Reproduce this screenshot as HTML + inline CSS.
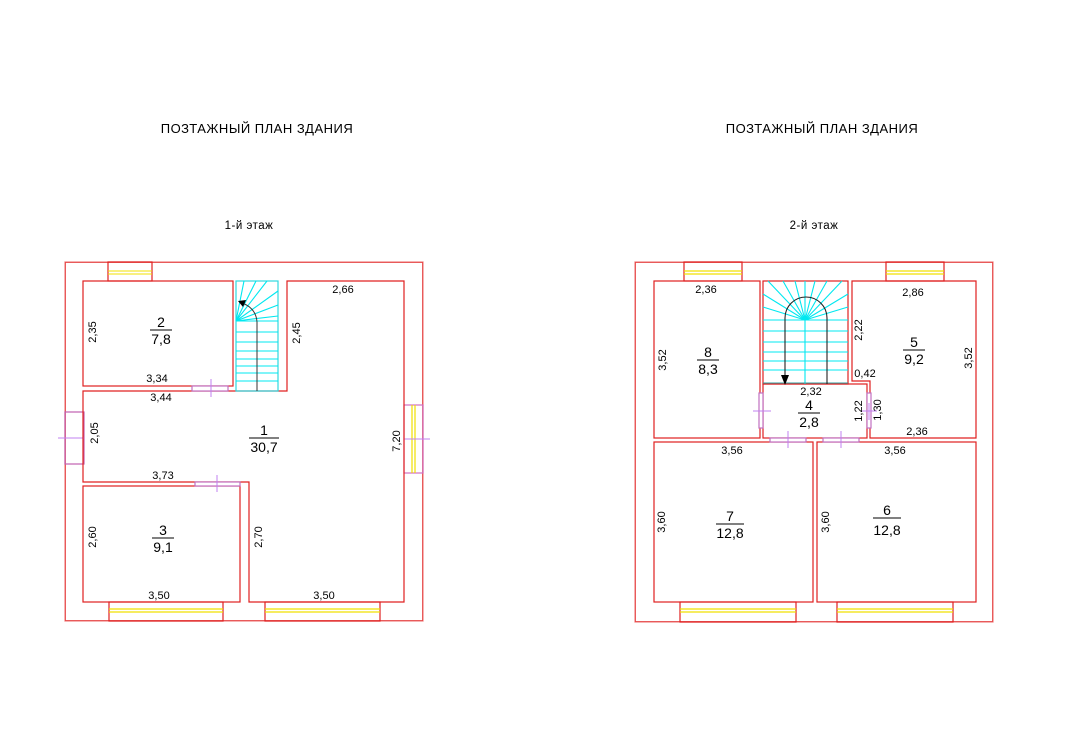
<!DOCTYPE html>
<html><head><meta charset="utf-8"><style>
html,body{margin:0;padding:0;background:#fff;}
svg{display:block;}
text{font-family:"Liberation Sans",sans-serif;fill:#000;}
</style></head><body>
<svg width="1080" height="750" viewBox="0 0 1080 750" xmlns="http://www.w3.org/2000/svg">
<g font-size="12.5" letter-spacing="0.5">
<text x="257" y="133" text-anchor="middle" font-size="13">ПОЗТАЖНЫЙ ПЛАН ЗДАНИЯ</text>
<text x="822" y="133" text-anchor="middle" font-size="13">ПОЗТАЖНЫЙ ПЛАН ЗДАНИЯ</text>
<text x="249" y="229" text-anchor="middle" font-size="11.5">1-й этаж</text>
<text x="814" y="229" text-anchor="middle" font-size="11.5">2-й этаж</text>
</g>

<!-- LEFT PLAN -->
<g fill="none" stroke-width="1.2">
<rect x="65" y="262" width="358" height="359" stroke="#f08080"/>
<rect x="65.5" y="262.5" width="357" height="358" stroke="#e02020" stroke-width="0.6"/>
<!-- windows -->
<rect x="108" y="262" width="44" height="19" stroke="#e02020"/>
<line x1="108" y1="271" x2="152" y2="271" stroke="#f0e000" stroke-width="1"/>
<line x1="108" y1="274" x2="152" y2="274" stroke="#f0e000" stroke-width="1"/>
<rect x="109" y="602" width="114" height="19" stroke="#e02020"/>
<line x1="109" y1="609" x2="223" y2="609" stroke="#f0e000"/>
<line x1="109" y1="612" x2="223" y2="612" stroke="#f0e000"/>
<rect x="265" y="602" width="115" height="19" stroke="#e02020"/>
<line x1="265" y1="609" x2="380" y2="609" stroke="#f0e000"/>
<line x1="265" y1="612" x2="380" y2="612" stroke="#f0e000"/>
<rect x="404" y="405" width="19" height="68" stroke="#d070c0"/>
<line x1="412" y1="405" x2="412" y2="473" stroke="#f0e000"/>
<line x1="415" y1="405" x2="415" y2="473" stroke="#f0e000"/>
<line x1="404" y1="439" x2="430" y2="439" stroke="#c080f0" stroke-width="1"/>
<rect x="65" y="412" width="19" height="52" stroke="#c060b0"/>
<line x1="58" y1="438" x2="84" y2="438" stroke="#c080f0" stroke-width="1"/>
<!-- rooms -->
<rect x="83" y="281" width="150" height="105" stroke="#e02020"/>
<polygon points="287,281 404,281 404,602 249,602 249,482 83,482 83,391 287,391" stroke="#e02020"/>
<rect x="83" y="486" width="157" height="116" stroke="#e02020"/>
<!-- doors -->
<rect x="192" y="386" width="36" height="5" stroke="#c070c0" fill="#fff"/>
<line x1="211" y1="379" x2="211" y2="397" stroke="#c080f0" stroke-width="1"/>
<rect x="195" y="482" width="45" height="4" stroke="#c070c0" fill="#fff"/>
<line x1="217" y1="475" x2="217" y2="492" stroke="#c080f0" stroke-width="1"/>
<!-- stair -->
<rect x="236" y="281" width="42" height="110" stroke="#30d8e0"/>
<g stroke="#00e8f0" stroke-width="1.1">
<line x1="236" y1="321" x2="244" y2="281"/><line x1="236" y1="321" x2="256" y2="281"/>
<line x1="236" y1="321" x2="267" y2="281"/><line x1="236" y1="321" x2="278" y2="291"/>
<line x1="236" y1="321" x2="278" y2="305"/><line x1="236" y1="321" x2="278" y2="316"/>
<line x1="236" y1="321" x2="278" y2="321"/><line x1="236" y1="332" x2="278" y2="332"/>
<line x1="236" y1="342" x2="278" y2="342"/><line x1="236" y1="351" x2="278" y2="351"/>
<line x1="236" y1="359" x2="278" y2="359"/><line x1="236" y1="366" x2="278" y2="366"/>
<line x1="236" y1="373" x2="278" y2="373"/><line x1="236" y1="381" x2="278" y2="381"/>
</g>
<path d="M257,391 L257,322 Q256,308 242,303" stroke="#333" stroke-width="1"/>
<polygon points="238,301 246,300 243,307" fill="#000" stroke="none"/>
</g>
<g font-size="11">
<text x="343" y="293" text-anchor="middle">2,66</text>
<text x="157" y="382" text-anchor="middle">3,34</text>
<text x="161" y="401" text-anchor="middle">3,44</text>
<text x="163" y="479" text-anchor="middle">3,73</text>
<text x="159" y="599" text-anchor="middle">3,50</text>
<text x="324" y="599" text-anchor="middle">3,50</text>
<text transform="translate(96,332) rotate(-90)" text-anchor="middle">2,35</text>
<text transform="translate(300,333) rotate(-90)" text-anchor="middle">2,45</text>
<text transform="translate(98,433) rotate(-90)" text-anchor="middle">2,05</text>
<text transform="translate(400,441) rotate(-90)" text-anchor="middle">7,20</text>
<text transform="translate(96,537) rotate(-90)" text-anchor="middle">2,60</text>
<text transform="translate(262,537) rotate(-90)" text-anchor="middle">2,70</text>
</g>
<g font-size="14" text-anchor="middle">
<text x="161" y="327">2</text><line x1="150" y1="330" x2="172" y2="330" stroke="#000"/><text x="161" y="344">7,8</text>
<text x="264" y="435">1</text><line x1="249" y1="438" x2="279" y2="438" stroke="#000"/><text x="264" y="452">30,7</text>
<text x="163" y="535">3</text><line x1="152" y1="538" x2="174" y2="538" stroke="#000"/><text x="163" y="552">9,1</text>
</g>

<!-- RIGHT PLAN -->
<g fill="none" stroke-width="1.2">
<rect x="635" y="262" width="358" height="360" stroke="#f08080"/>
<rect x="635.5" y="262.5" width="357" height="359" stroke="#e02020" stroke-width="0.6"/>
<rect x="684" y="262" width="58" height="19" stroke="#e02020"/>
<line x1="684" y1="271" x2="742" y2="271" stroke="#f0e000"/><line x1="684" y1="274" x2="742" y2="274" stroke="#f0e000"/>
<rect x="886" y="262" width="58" height="19" stroke="#e02020"/>
<line x1="886" y1="271" x2="944" y2="271" stroke="#f0e000"/><line x1="886" y1="274" x2="944" y2="274" stroke="#f0e000"/>
<rect x="680" y="602" width="116" height="20" stroke="#e02020"/>
<line x1="680" y1="609" x2="796" y2="609" stroke="#f0e000"/><line x1="680" y1="612" x2="796" y2="612" stroke="#f0e000"/>
<rect x="837" y="602" width="116" height="20" stroke="#e02020"/>
<line x1="837" y1="609" x2="953" y2="609" stroke="#f0e000"/><line x1="837" y1="612" x2="953" y2="612" stroke="#f0e000"/>
<rect x="654" y="281" width="106" height="157" stroke="#e02020"/>
<polygon points="852,281 976,281 976,438 870,438 870,381 852,381" stroke="#e02020"/>
<rect x="763" y="384" width="104" height="54" stroke="#e02020"/>
<rect x="654" y="442" width="159" height="160" stroke="#e02020"/>
<rect x="817" y="442" width="159" height="160" stroke="#e02020"/>
<!-- stair -->
<rect x="763" y="281" width="85" height="103" stroke="#e02020"/>
<g stroke="#00e8f0" stroke-width="1.1">
<line x1="805" y1="320" x2="768" y2="281"/><line x1="805" y1="320" x2="783" y2="281"/>
<line x1="805" y1="320" x2="795" y2="281"/><line x1="805" y1="320" x2="805" y2="281"/>
<line x1="805" y1="320" x2="815" y2="281"/><line x1="805" y1="320" x2="827" y2="281"/>
<line x1="805" y1="320" x2="842" y2="281"/>
<line x1="805" y1="320" x2="763" y2="294"/><line x1="805" y1="320" x2="763" y2="307"/>
<line x1="805" y1="320" x2="848" y2="294"/><line x1="805" y1="320" x2="848" y2="307"/>
<line x1="805" y1="320" x2="805" y2="384"/>
<line x1="763" y1="320" x2="848" y2="320"/><line x1="763" y1="331" x2="848" y2="331"/>
<line x1="763" y1="342" x2="848" y2="342"/><line x1="763" y1="352" x2="848" y2="352"/>
<line x1="763" y1="361" x2="848" y2="361"/><line x1="763" y1="370" x2="848" y2="370"/>
<line x1="763" y1="383" x2="848" y2="383" stroke="#30a0a0"/>
</g>
<path d="M785,378 L785,318 A20,20 0 0 1 827,318 L827,384" stroke="#222" stroke-width="1.1"/>
<polygon points="781,375 789,375 785,385" fill="#000" stroke="none"/>
<!-- doors -->
<rect x="759" y="393" width="4" height="35" stroke="#c070c0" fill="#fff"/>
<line x1="753" y1="411" x2="771" y2="411" stroke="#c080f0" stroke-width="1"/>
<rect x="867" y="393" width="4" height="35" stroke="#c070c0" fill="#fff"/>
<line x1="862" y1="411" x2="877" y2="411" stroke="#c080f0" stroke-width="1"/>
<line x1="869" y1="403" x2="869" y2="420" stroke="#c080f0" stroke-width="1"/>
<rect x="770" y="438" width="36" height="4" stroke="#c070c0" fill="#fff"/>
<line x1="788" y1="431" x2="788" y2="448" stroke="#c080f0" stroke-width="1"/>
<rect x="823" y="438" width="36" height="4" stroke="#c070c0" fill="#fff"/>
<line x1="841" y1="431" x2="841" y2="448" stroke="#c080f0" stroke-width="1"/>
</g>
<g font-size="11">
<text x="706" y="293" text-anchor="middle">2,36</text>
<text x="913" y="296" text-anchor="middle">2,86</text>
<text x="865" y="377" text-anchor="middle">0,42</text>
<text x="811" y="395" text-anchor="middle">2,32</text>
<text x="917" y="435" text-anchor="middle">2,36</text>
<text x="732" y="454" text-anchor="middle">3,56</text>
<text x="895" y="454" text-anchor="middle">3,56</text>
<text transform="translate(666,360) rotate(-90)" text-anchor="middle">3,52</text>
<text transform="translate(862,330) rotate(-90)" text-anchor="middle">2,22</text>
<text transform="translate(972,358) rotate(-90)" text-anchor="middle">3,52</text>
<text transform="translate(862,411) rotate(-90)" text-anchor="middle">1,22</text>
<text transform="translate(881,410) rotate(-90)" text-anchor="middle">1,30</text>
<text transform="translate(665,522) rotate(-90)" text-anchor="middle">3,60</text>
<text transform="translate(829,522) rotate(-90)" text-anchor="middle">3,60</text>
</g>
<g font-size="14" text-anchor="middle">
<text x="708" y="357">8</text><line x1="697" y1="360" x2="719" y2="360" stroke="#000"/><text x="708" y="374">8,3</text>
<text x="914" y="347">5</text><line x1="903" y1="350" x2="925" y2="350" stroke="#000"/><text x="914" y="364">9,2</text>
<text x="809" y="410">4</text><line x1="798" y1="413" x2="820" y2="413" stroke="#000"/><text x="809" y="427">2,8</text>
<text x="730" y="521">7</text><line x1="716" y1="524" x2="744" y2="524" stroke="#000"/><text x="730" y="538">12,8</text>
<text x="887" y="515">6</text><line x1="873" y1="518" x2="901" y2="518" stroke="#000"/><text x="887" y="535">12,8</text>
</g>
</svg>
</body></html>
